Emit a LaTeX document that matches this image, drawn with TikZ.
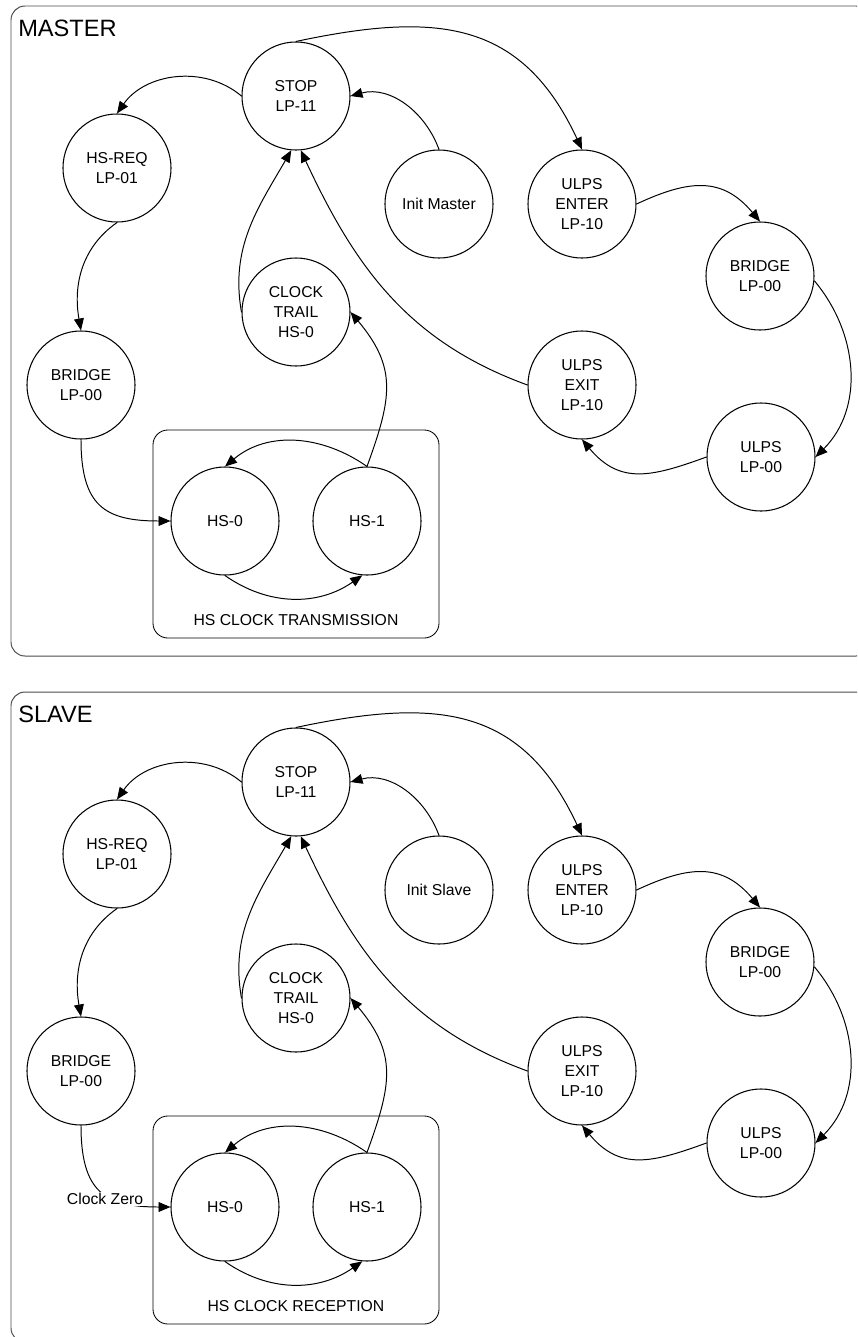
\documentclass[tikz,border=0pt]{standalone}
\usepackage{fontspec}
\setmainfont{Liberation Sans}
\usetikzlibrary{arrows.meta}
\tikzset{
	state/.style = {circle, draw, line width=0.75pt, minimum size=2.7cm, inner sep=0pt, align=center,
			font=\fontsize{11.2}{14.2}\selectfont},
	trans/.style = {-{Triangle[length=8.5pt,width=7pt]}, line width=0.7pt},
	frame/.style = {draw=black!70, line width=0.7pt, rounded corners=0.35cm},
	group/.style = {draw, line width=0.6pt, rounded corners=0.37cm},
	lbl/.style = {font=\fontsize{11.2}{14.2}\selectfont, inner sep=0pt}
}

\begin{document}
\begin{tikzpicture}[x=0.025cm, y=0.025cm]
					\useasboundingbox (0,0) rectangle (857,-1337);
					\clip (0,0) rectangle (857,-1337);
					\foreach \oy/\p/\who/\initname/\grp in {0/m/MASTER/Init Master/HS CLOCK TRANSMISSION,
							686/s/SLAVE/Init Slave/HS CLOCK RECEPTION} {
							\begin{scope}[shift={(0,-\oy)}]
								% ====== Frames ========
								\draw[frame] (11,-6) rectangle (870,-656);
								\node[anchor=base west, inner sep=0pt, font=\fontsize{16.8}{20}\selectfont] (title\p) at (18,-36) {\who};
								\draw[group] (153,-430) rectangle (439,-638);
								\node[lbl] (grp\p) at (296,-620) {\grp};
								% ====== States ========
								\node[state] (stop\p) at (296,-96) {STOP\\LP-11};
								\node[state] (hsreq\p) at (117,-168) {HS-REQ\\LP-01};
								\node[state] (init\p) at (439,-204) {\initname};
								\node[state] (ulpsin\p) at (582,-204) {ULPS\\ENTER\\LP-10};
								\node[state] (bridger\p) at (760,-276) {BRIDGE\\LP-00};
								\node[state] (ulps\p) at (761,-457) {ULPS\\LP-00};
								\node[state] (ulpsout\p) at (582,-385) {ULPS\\EXIT\\LP-10};
								\node[state] (trail\p) at (296,-312) {CLOCK\\TRAIL\\HS-0};
								\node[state] (bridgel\p) at (81,-385) {BRIDGE\\LP-00};
								\node[state] (hszero\p) at (225,-521) {HS-0};
								\node[state] (hsone\p) at (367,-521) {HS-1};
								% ====== Transitions ========
								\draw[trans] (stop\p.west) to[out=140,in=55] (hsreq\p.north);
								\draw[trans] (hsreq\p.south) to[out=215,in=100] (bridgel\p.north);
								\draw[trans] (bridgel\p.south) to[out=-90,in=180,looseness=1.4] (hszero\p.west);
								\draw[trans] (hszero\p.south) to[out=-35,in=-145] (hsone\p.-95);
								\draw[trans] (hsone\p.north) to[out=145,in=40] (hszero\p.north);
								\draw[trans] (hsone\p.north) to[out=70,in=-50,looseness=1.2] (trail\p.east);
								\draw[trans] (trail\p.west) to[out=100,in=-120] (stop\p.-95);
								\draw[trans] (ulpsout\p.west) to[out=160,in=-65] (stop\p.-85);
								\draw[trans] (init\p.north) to[out=110,in=15] (stop\p.east);
								\draw[trans] (stop\p.north) to[out=12,in=115,looseness=1.2] (ulpsin\p.north);
								\draw[trans] (ulpsin\p.east) to[out=25,in=130,looseness=1.2] (bridger\p.north);
								\draw[trans] (bridger\p.-5) to[out=-50,in=45] (ulps\p.east);
								\draw[trans] (ulps\p.west) to[out=200,in=-50,looseness=1.2] (ulpsout\p.south);
							\end{scope}
						}
					\node[lbl, fill=white, inner sep=1pt] (zero) at (105,-1199) {Clock Zero};
				\end{tikzpicture}
\end{document}
